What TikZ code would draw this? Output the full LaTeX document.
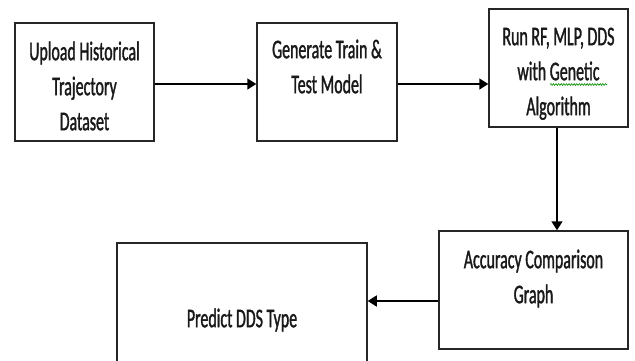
\documentclass[tikz,border=0pt]{standalone}
\usepackage{fontspec}
\setmainfont{Carlito}[FakeStretch=0.59,FakeBold=1.2]
\usetikzlibrary{arrows.meta,decorations.pathmorphing}
\begin{document}
\begin{tikzpicture}[x=1pt,y=-1pt,
  box/.style={draw=black!85,line width=1.5pt,fill=white,inner sep=0pt},
  label/.style={anchor=north,align=center,inner sep=0pt,text=black!90,font=\fontsize{27}{35}\selectfont},
  arr/.style={draw=black,line width=1.5pt,-{Triangle[length=9pt,width=11pt]}}]
\useasboundingbox (0,0) rectangle (635,360);
\clip (0,0) rectangle (635,360);
% boxes
\node[box,minimum width=139pt,minimum height=118pt] (b1) at (84.5,82) {};
\node[box,minimum width=140pt,minimum height=118pt] (b2) at (327,82) {};
\node[box,minimum width=139pt,minimum height=118pt] (b3) at (558.5,68) {};
\node[box,minimum width=189pt,minimum height=118pt] (b4) at (533.5,290) {};
\node[box,minimum width=250pt,minimum height=137pt] (b5) at (242,311.5) {};
% texts
\node[label] (t1) at (84.5,35.5) {\strut Upload Historical\\Trajectory\\Dataset};
\node[label] (t2) at (327,33.5) {\strut Generate Train \&\\Test Model};
\node[label] (t3) at (558.5,20.5) {\strut Run RF, MLP, DDS\\with Genetic\\Algorithm};
\node[label] (t4) at (533.5,243.5) {\strut Accuracy Comparison\\Graph};
\node[label] (t5) at (242,302.5) {\strut Predict DDS Type};
% spell-check underline
\draw[green!55!black,line width=0.6pt,decorate,decoration={snake,amplitude=0.9pt,segment length=2.6pt}] (550,84.5) -- (607,84.5);
% connectors
\draw[arr] ([yshift=-2pt]b1.east) -- ([yshift=-2pt]b2.west);
\draw[arr] ([yshift=-2pt]b2.east) -- ([yshift=-2pt]b2.east -| b3.west);
\draw[arr] ([xshift=-1.5pt]b3.south) -- ([xshift=-1.5pt]b3.south |- b4.north);
\draw[arr] ([yshift=-11pt]b4.west) -- ([yshift=-11pt]b4.west -| b5.east);
\end{tikzpicture}
\end{document}
